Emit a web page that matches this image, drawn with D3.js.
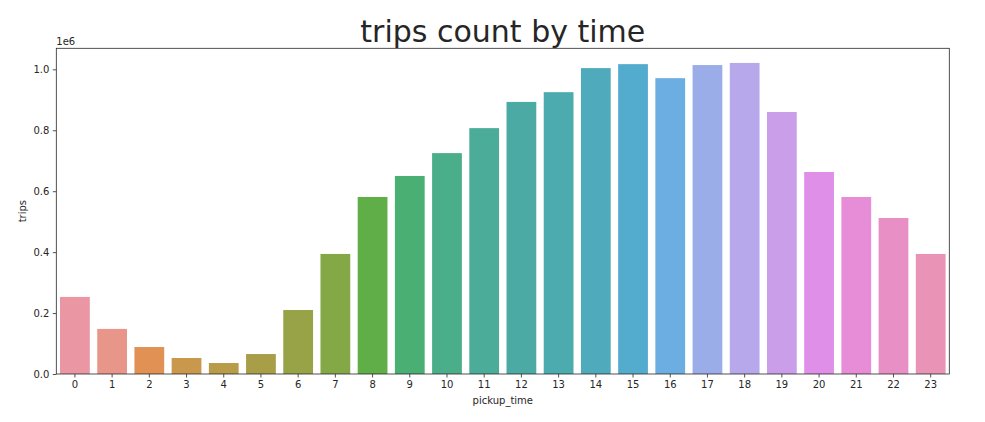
<!DOCTYPE html>
<html><head><meta charset="utf-8">
<script src="https://cdn.jsdelivr.net/npm/d3@7"></script>
<style>body{margin:0;background:#fff}svg{display:block}text{font-family:"DejaVu Sans",sans-serif;fill:#262626}</style>
</head><body>
<script>
const hours = d3.range(24).map(String);
const trips = [253000,148000,88500,52500,36000,65500,210000,394000,581000,650000,725000,807000,893000,925000,1004000,1017000,971000,1014000,1021000,860000,663000,581000,512000,394000];
const yTicks = [0,0.2e6,0.4e6,0.6e6,0.8e6,1.0e6];

// seaborn husl palette (categorical default: l=.7, then desaturated to .75)
const M=[[3.2406,-1.5372,-0.4986],[-0.9689,1.8758,0.0415],[0.0557,-0.2040,1.0570]];
const refU=0.19784, refV=0.46834;
function maxChroma(L,H){const hr=H*Math.PI/180,s=Math.sin(hr),c=Math.cos(hr);
 const sub1=Math.pow(L+16,3)/1560896, sub2=sub1>0.008856?sub1:L/903.3; let res=Infinity;
 for(const [m1,m2,m3] of M){const top=(0.99915*m1+1.05122*m2+1.14460*m3)*sub2;
  const rb=0.86330*m3-0.17266*m2, lb=0.12949*m3-0.38848*m1; const bottom=(rb*s+lb*c)*sub2;
  for(const t of [0,1]){const C=L*(top-1.05122*t)/(bottom+0.17266*s*t); if(C>0&&C<res)res=C;}}
 return res;}
function fInv(t){return Math.pow(t,3)>0.008856?Math.pow(t,3):(116*t-16)/903.3;}
function fromLin(c){return c<=0.0031308?12.92*c:1.055*Math.pow(c,1/2.4)-0.055;}
function husl(H,S,L){const C=maxChroma(L,H)/100*S; const hr=H*Math.PI/180;
 const U=Math.cos(hr)*C, V=Math.sin(hr)*C;
 const vY=fInv((L+16)/116), vU=U/(13*L)+refU, vV=V/(13*L)+refV;
 const Y=vY, X=-(9*Y*vU)/((vU-4)*vV-vU*vV), Z=(9*Y-15*vV*Y-vV*X)/(3*vV);
 const rgb=M.map(r=>fromLin(r[0]*X+r[1]*Y+r[2]*Z)).map(v=>Math.max(0,Math.min(1,v)));
 const h=d3.hsl(d3.rgb(rgb[0]*255,rgb[1]*255,rgb[2]*255)); h.s*=0.75; return h.rgb().toString();}
const palette=hours.map((_,i)=>husl(((i/24+0.01)%1)*359,0.9*99,0.7*99));

const W=985,H=422, m={l:56.3,r:985-949.3,t:48.3,b:422-374};
const svg=d3.select("body").append("svg").attr("width",W).attr("height",H);
const x=d3.scaleBand().domain(hours).range([m.l,W-m.r]).paddingInner(0.2).paddingOuter(0.1);
const y=d3.scaleLinear().domain([0,1.069e6]).range([H-m.b,m.t]);

svg.selectAll("rect.bar").data(trips).join("rect").attr("class","bar")
 .attr("x",(d,i)=>x(hours[i])).attr("width",x.bandwidth())
 .attr("y",d=>y(d)).attr("height",d=>y(0)-y(d)).attr("fill",(d,i)=>palette[i]);

const xa=svg.append("g").attr("transform",`translate(0,${H-m.b})`)
 .call(d3.axisBottom(x).tickSize(3.5).tickPadding(3.5).tickSizeOuter(0));
const ya=svg.append("g").attr("transform",`translate(${m.l},0)`)
 .call(d3.axisLeft(y).tickValues(yTicks).tickFormat(d=>(d/1e6).toFixed(1)).tickSize(3.5).tickPadding(3.5).tickSizeOuter(0));
[xa,ya].forEach(g=>{g.select(".domain").remove();g.selectAll("line").attr("stroke","#262626").attr("stroke-width",0.8);
 g.selectAll("text").attr("font-size",10).attr("fill","#262626").style("font-family","DejaVu Sans");});

svg.append("rect").attr("x",m.l).attr("y",m.t).attr("width",W-m.r-m.l).attr("height",H-m.b-m.t)
 .attr("fill","none").attr("stroke","#262626").attr("stroke-width",0.8);

svg.append("text").attr("x",m.l).attr("y",m.t-3).attr("font-size",10).text("1e6");
svg.append("text").attr("x",(m.l+W-m.r)/2).attr("y",H-m.b+30).attr("text-anchor","middle").attr("font-size",10).text("pickup_time");
svg.append("text").attr("transform",`translate(26,${(m.t+H-m.b)/2}) rotate(-90)`).attr("text-anchor","middle").attr("font-size",10).text("trips");
svg.append("text").attr("x",(m.l+W-m.r)/2).attr("y",42).attr("text-anchor","middle").attr("font-size",30).text("trips count by time");
</script>
</body></html>
